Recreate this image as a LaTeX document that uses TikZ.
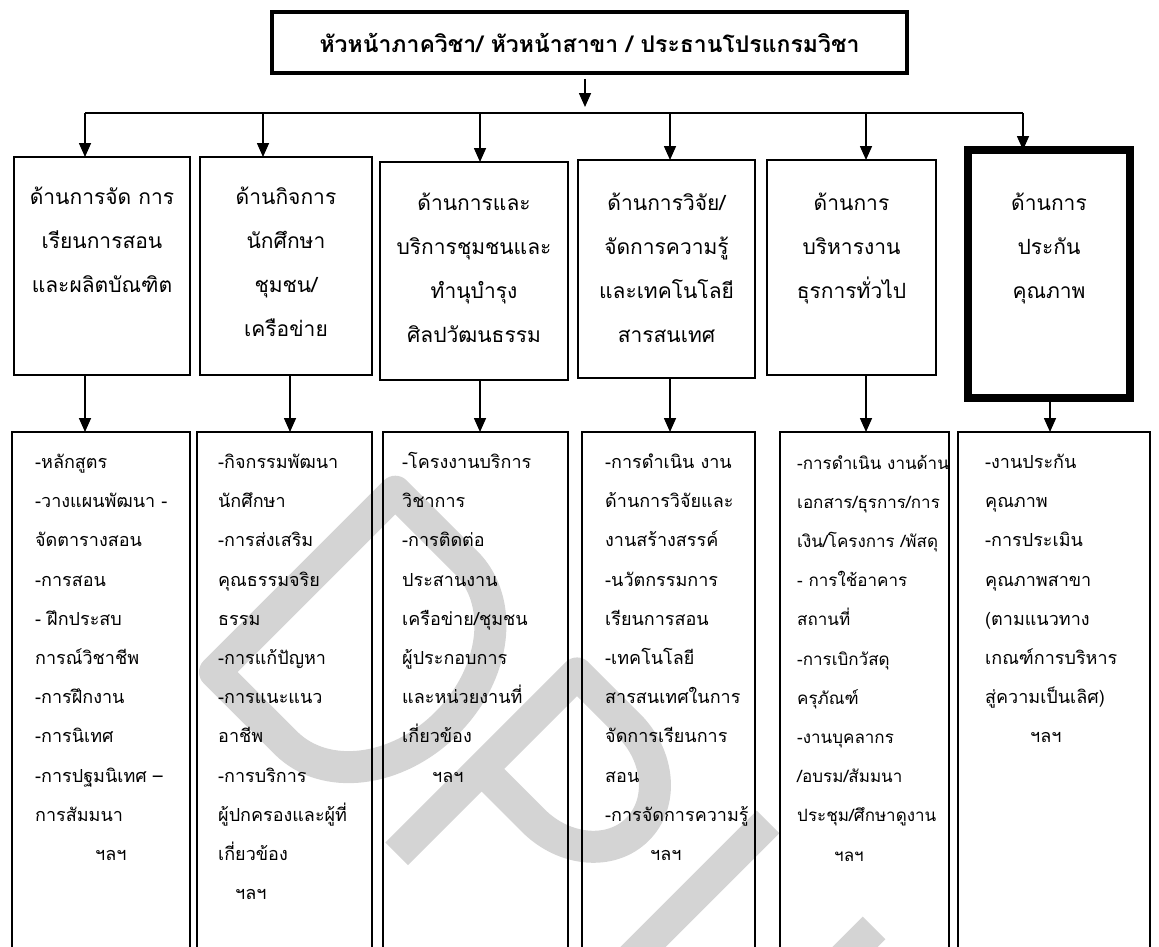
\documentclass[tikz,border=0pt]{standalone}
\usepackage{fontspec}
\setmainfont[Script=Thai]{Loma}
\usetikzlibrary{arrows.meta}
\begin{document}
\begin{tikzpicture}[x=1pt,y=1pt,
  wm/.style={draw=black!17, line width=32pt, line join=round},
  ln/.style={line width=1.6pt},
  arr/.style={ln, -{Triangle[width=12pt,length=14pt]}},
  box/.style={draw, line width=1.6pt, anchor=north west, inner sep=0pt, outer sep=0pt},
  mtext/.style={font=\fontsize{21}{44}\selectfont, align=center, anchor=north, inner sep=0pt},
  btext/.style={font=\fontsize{18}{39.2}\selectfont, align=left, anchor=north west, inner sep=0pt}]
\useasboundingbox (0,0) rectangle (1159,-946);
\clip (0,0) rectangle (1159,-946);
% watermark
\begin{scope}[shift={(215,-672)}, rotate=45]
  \draw[wm] (0,0) -- (255,0) -- (255,-100) arc[start angle=0, end angle=-180, x radius=127.5, y radius=100] -- cycle;
  \draw[wm] (0,-257) -- (255,-257) -- (255,-330) arc[start angle=0, end angle=-180, x radius=67.5, y radius=80] -- (120,-257);
  \draw[wm] (285,-497) -- (75,-497) arc[start angle=90, end angle=270, radius=75] -- (285,-647);
\end{scope}
% top
\node[draw, line width=3.5pt, minimum width=635pt, minimum height=61pt, inner sep=0pt,
      font=\bfseries\fontsize{23}{28}\selectfont] (top) at (589.5,-42.5)
      {หัวหน้าภาควิชา/ หัวหน้าสาขา / ประธานโปรแกรมวิชา};
\coordinate (mtip) at (585,-107);
\draw[arr] ([yshift=-4pt]top.south -| mtip) -- (mtip);
% bus
\coordinate (bus1) at (85,-113);
\coordinate (bus2) at (263,-113);
\coordinate (bus3) at (480,-113);
\coordinate (bus4) at (670,-113);
\coordinate (bus5) at (866,-113);
\coordinate (bus6) at (1023,-113);
\draw[ln] (bus1) -- (bus6);
% middle boxes
\node[box, minimum width=176pt, minimum height=218pt] (m1) at (14,-157) {};
\node[box, minimum width=172pt, minimum height=218pt] (m2) at (200,-157) {};
\node[box, minimum width=188pt, minimum height=218pt] (m3) at (380,-162) {};
\node[box, minimum width=177pt, minimum height=218pt] (m4) at (578,-160) {};
\node[box, minimum width=169pt, minimum height=215pt] (m5) at (767,-160) {};
\node[box, line width=7.5pt, minimum width=162pt, minimum height=248pt] (m6) at (968,-150) {};
\foreach \i in {1,...,6} {\draw[arr] (bus\i) -- (bus\i |- m\i.north);}
\node[mtext] (t1) at ([yshift=-16pt]m1.north) {\strut ด้านการจัด การ\\เรียนการสอน\\และผลิตบัณฑิต};
\node[mtext] (t2) at ([yshift=-16pt]m2.north) {\strut ด้านกิจการ\\นักศึกษา\\ชุมชน/\\เครือข่าย};
\node[mtext] (t3) at ([yshift=-17pt]m3.north) {\strut ด้านการและ\\บริการชุมชนและ\\ทำนุบำรุง\\ศิลปวัฒนธรรม};
\node[mtext] (t4) at ([yshift=-19pt]m4.north) {\strut ด้านการวิจัย/\\จัดการความรู้\\และเทคโนโลยี\\สารสนเทศ};
\node[mtext] (t5) at ([yshift=-19pt]m5.north) {\strut ด้านการ\\บริหารงาน\\ธุรการทั่วไป};
\node[mtext] (t6) at ([yshift=-29pt]m6.north) {\strut ด้านการ\\ประกัน\\คุณภาพ};
% bottom boxes
\node[box, minimum width=178pt, minimum height=560pt] (b1) at (12,-432) {};
\node[box, minimum width=175pt, minimum height=560pt] (b2) at (197,-432) {};
\node[box, minimum width=185pt, minimum height=560pt] (b3) at (383,-432) {};
\node[box, minimum width=173pt, minimum height=560pt] (b4) at (582,-432) {};
\node[box, minimum width=169pt, minimum height=560pt] (b5) at (780,-432) {};
\node[box, minimum width=192pt, minimum height=560pt] (b6) at (958,-432) {};
\coordinate (d1) at (85,0);
\coordinate (d2) at (290,0);
\coordinate (d3) at (480,0);
\coordinate (d4) at (670,0);
\coordinate (d5) at (866,0);
\coordinate (d6) at (1050,0);
\foreach \i in {1,...,6} {\draw[arr] (m\i.south -| d\i) -- (b\i.north -| d\i);}
\node[btext] (s1) at ([shift={(23,-8.8)}]b1.north west) {\strut -หลักสูตร\\-วางแผนพัฒนา -\\จัดตารางสอน\\-การสอน\\- ฝึกประสบ\\การณ์วิชาชีพ\\-การฝึกงาน\\-การนิเทศ\\-การปฐมนิเทศ –\\การสัมมนา\\\hspace*{60pt}ฯลฯ};
\node[btext] (s2) at ([shift={(21,-8.8)}]b2.north west) {\strut -กิจกรรมพัฒนา\\นักศึกษา\\-การส่งเสริม\\คุณธรรมจริย\\ธรรม\\-การแก้ปัญหา\\-การแนะแนว\\อาชีพ\\-การบริการ\\ผู้ปกครองและผู้ที่\\เกี่ยวข้อง\\\hspace*{17pt}ฯลฯ};
\node[btext] (s3) at ([shift={(19,-8.8)}]b3.north west) {\strut -โครงงานบริการ\\วิชาการ\\-การติดต่อ\\ประสานงาน\\เครือข่าย/ชุมชน\\ผู้ประกอบการ\\และหน่วยงานที่\\เกี่ยวข้อง\\\hspace*{30pt}ฯลฯ};
\node[btext] (s4) at ([shift={(23,-8.8)}]b4.north west) {\strut -การดำเนิน งาน\\ด้านการวิจัยและ\\งานสร้างสรรค์\\-นวัตกรรมการ\\เรียนการสอน\\-เทคโนโลยี\\สารสนเทศในการ\\จัดการเรียนการ\\สอน\\-การจัดการความรู้\\\hspace*{45pt}ฯลฯ};
\node[btext, font=\fontsize{17}{39.2}\selectfont] (s5) at ([shift={(17,-9.5)}]b5.north west) {\strut -การดำเนิน งานด้าน\\เอกสาร/ธุรการ/การ\\เงิน/โครงการ /พัสดุ\\- การใช้อาคาร\\สถานที่\\-การเบิกวัสดุ\\ครุภัณฑ์\\-งานบุคลากร\\/อบรม/สัมมนา\\ประชุม/ศึกษาดูงาน\\\hspace*{37pt}ฯลฯ};
\node[btext] (s6) at ([shift={(27,-8.8)}]b6.north west) {\strut -งานประกัน\\คุณภาพ\\-การประเมิน\\คุณภาพสาขา\\(ตามแนวทาง\\เกณฑ์การบริหาร\\สู่ความเป็นเลิศ)\\\hspace*{45pt}ฯลฯ};
\end{tikzpicture}
\end{document}
